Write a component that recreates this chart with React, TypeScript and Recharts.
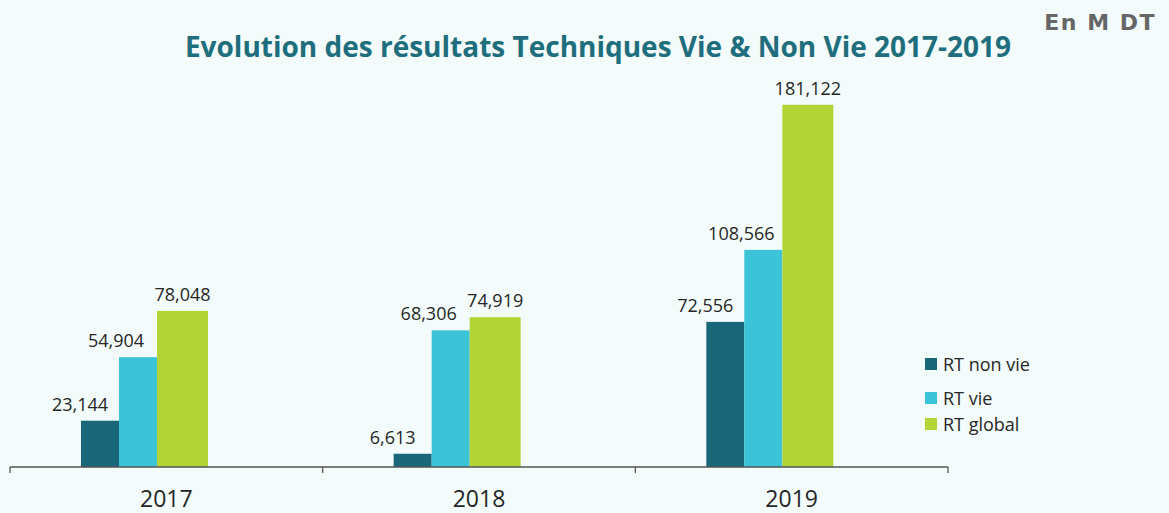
import { BarChart, Bar, XAxis, YAxis, Legend, LabelList } from "recharts";

const years = ["2017", "2018", "2019"];
const rtNonVie = [23144, 6613, 72556];
const rtVie = [54904, 68306, 108566];
const rtGlobal = [78048, 74919, 181122];
const seriesNames = ["RT non vie", "RT vie", "RT global"];

const data = years.map((year, i) => ({
  year,
  nonVie: rtNonVie[i],
  vie: rtVie[i],
  global: rtGlobal[i],
}));

const COLORS = ["#1B677A", "#3BC4D7", "#B4D334"];
const TEXT = "#262626";
const FONT = "'Open Sans', sans-serif";
const TICK_MARGIN = 24;

// groupe decale a gauche comme dans l'original
const SHIFT = -28;

function shiftedBar(extra: number) {
  return (props: any) => {
    const { x, y, width, height, fill } = props;
    return <rect x={x + SHIFT} y={y} width={width + extra} height={height} fill={fill} />;
  };
}

function valueLabel(dx: number) {
  return (props: any) => {
    const { x, y, width, value } = props;
    return (
      <text
        x={x + SHIFT + width / 2 + dx}
        y={y - 10}
        textAnchor="middle"
        fontSize={18}
        fontFamily={FONT}
        fill={TEXT}
      >
        {Number(value).toLocaleString("en-US")}
      </text>
    );
  };
}

// tick = annee + traits de separation entre categories
function yearTick(props: any) {
  const { x, y, payload, index, width, visibleTicksCount } = props;
  const band = width / visibleTicksCount;
  const axisY = y - TICK_MARGIN;
  const isLast = index === visibleTicksCount - 1;
  return (
    <g>
      <line x1={x - band / 2} x2={x - band / 2} y1={axisY} y2={axisY + 6} stroke="#555" strokeWidth={1.3} />
      {isLast && (
        <line x1={x + band / 2} x2={x + band / 2} y1={axisY} y2={axisY + 6} stroke="#555" strokeWidth={1.3} />
      )}
      <text x={x} y={y} dy="0.71em" textAnchor="middle" fontSize={23} fontFamily={FONT} fill={TEXT}>
        {payload.value}
      </text>
    </g>
  );
}

const rowGaps = [0, 9.5, 2];

function renderLegend() {
  return (
    <div style={{ fontFamily: FONT, fontSize: 18, color: TEXT }}>
      {seriesNames.map((name, i) => (
        <div
          key={name}
          style={{ display: "flex", alignItems: "center", height: 24, marginTop: rowGaps[i] }}
        >
          <span
            style={{ width: 12, height: 12, background: COLORS[i], marginRight: 6, display: "inline-block" }}
          />
          <span style={{ lineHeight: "24px", whiteSpace: "nowrap" }}>{name}</span>
        </div>
      ))}
    </div>
  );
}

export default function App() {
  return (
    <div
      style={{
        position: "absolute",
        left: 0,
        top: 0,
        width: 1169,
        height: 513,
        background: "#F3FCFB",
        overflow: "hidden",
      }}
    >
      <BarChart
        width={1169}
        height={513}
        data={data}
        margin={{ top: 47, right: 221, left: 10, bottom: 0 }}
        barGap={0}
        barSize={38}
      >
        <XAxis
          dataKey="year"
          axisLine={{ stroke: "#555", strokeWidth: 1.3 }}
          tickLine={false}
          tickSize={0}
          tickMargin={TICK_MARGIN}
          height={46}
          interval={0}
          tick={yearTick}
        />
        <YAxis hide domain={[0, 210000]} />
        <Legend
          layout="vertical"
          align="center"
          verticalAlign="middle"
          wrapperStyle={{ position: "absolute", left: 925, top: 352, width: 150, height: 90 }}
          content={renderLegend}
        />
        <Bar dataKey="nonVie" name={seriesNames[0]} fill={COLORS[0]} shape={shiftedBar(0)} isAnimationActive={false}>
          <LabelList dataKey="nonVie" content={valueLabel(-20)} />
        </Bar>
        <Bar dataKey="vie" name={seriesNames[1]} fill={COLORS[1]} shape={shiftedBar(0)} isAnimationActive={false}>
          <LabelList dataKey="vie" content={valueLabel(-22)} />
        </Bar>
        <Bar dataKey="global" name={seriesNames[2]} fill={COLORS[2]} shape={shiftedBar(13)} isAnimationActive={false}>
          <LabelList dataKey="global" content={valueLabel(6.5)} />
        </Bar>
      </BarChart>

      <svg
        width={1169}
        height={513}
        style={{ position: "absolute", left: 0, top: 0, pointerEvents: "none" }}
      >
        <text
          x={598}
          y={57}
          textAnchor="middle"
          fontFamily="'Open Sans', sans-serif"
          fontWeight={700}
          fontSize={28}
          fill="#1F6E7D"
        >
          Evolution des résultats Techniques Vie &amp; Non Vie 2017-2019
        </text>
        <text
          x={1156}
          y={30}
          textAnchor="end"
          fontFamily="'DejaVu Sans', sans-serif"
          fontWeight={700}
          fontSize={22}
          letterSpacing={1.5}
          fill="#666666"
        >
          En M DT
        </text>
      </svg>
    </div>
  );
}
